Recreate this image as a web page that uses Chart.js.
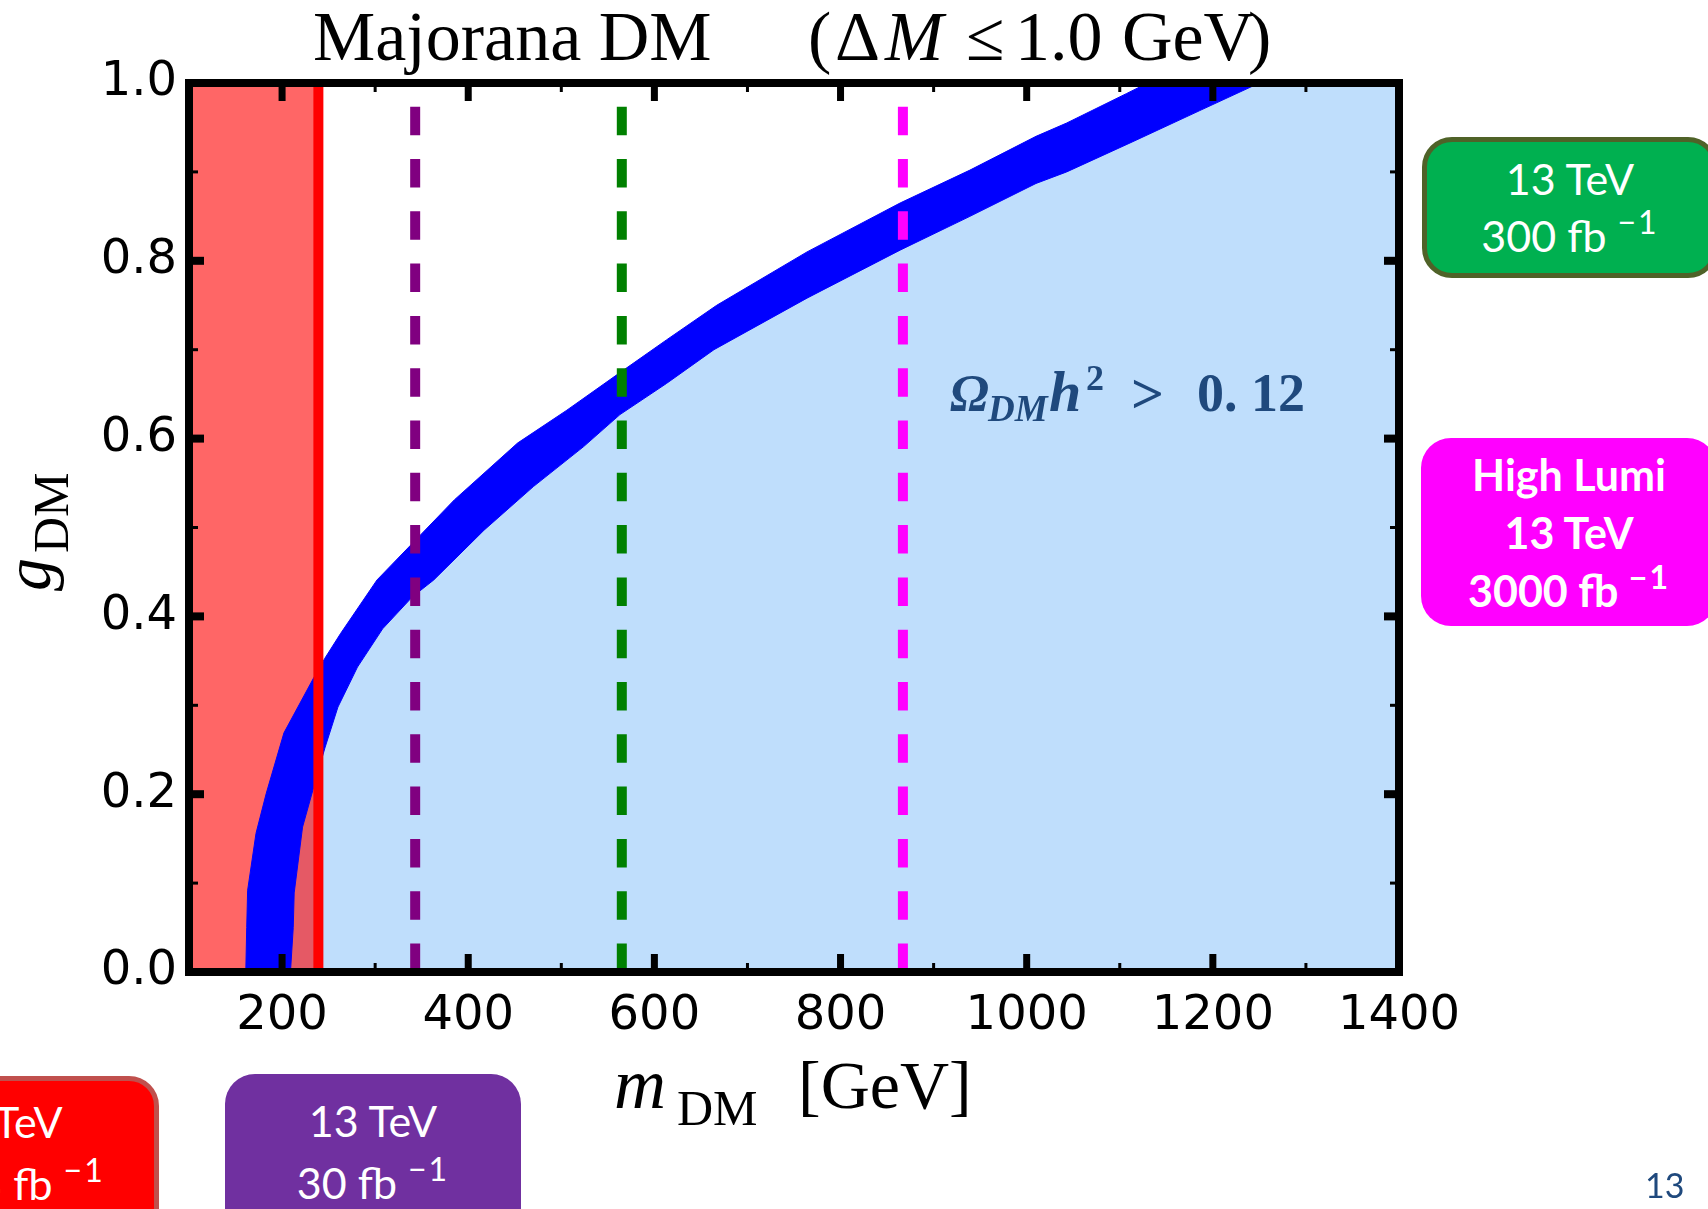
<!DOCTYPE html>
<html>
<head>
<meta charset="utf-8">
<title>Majorana DM</title>
<script src="https://cdn.jsdelivr.net/npm/chart.js@4.4.1/dist/chart.umd.min.js"></script>
<style>
  body { margin: 0; background: #fff; }
  #wrap { position: relative; width: 1708px; height: 1209px; overflow: hidden; }
  #myChart { position: absolute; left: 0; top: 0; }
  .box { position: absolute; box-sizing: border-box; width: 296px; color: #fff;
         font-family: Lato, sans-serif; font-size: 43px; text-align: center; border-radius: 30px; }
  .box div { white-space: nowrap; }
  .sup { font-size: 32px; letter-spacing: 2px; position: relative; top: -18px; }
  .bold { font-weight: bold; }
  #page { position: absolute; left: 1645px; top: 1164px; font-family: Lato, sans-serif; font-size: 34px; color: #1f497d; }
</style>
</head>
<body>
<div id="wrap">
  <canvas id="myChart" width="1708" height="1209"></canvas>

  <div class="box" style="left:1422px;top:137px;height:141px;background:#00b050;border:5px solid #4f6228;padding-top:8px;line-height:57px;">
    <div>13 TeV</div><div>300 fb <span class="sup">−1</span></div>
  </div>
  <div class="box bold" style="left:1421px;top:438px;height:188px;background:#ff00ff;padding-top:8px;line-height:58px;">
    <div>High Lumi</div><div>13 TeV</div><div>3000 fb <span class="sup">−1</span></div>
  </div>
  <div class="box" style="left:-137px;top:1076px;height:170px;background:#ff0000;border:5px solid #c0504d;padding-top:10px;line-height:62px;">
    <div>8 TeV</div><div>20.3 fb <span class="sup">−1</span></div>
  </div>
  <div class="box" style="left:225px;top:1074px;height:170px;background:#7030a0;padding-top:16px;line-height:62px;">
    <div>13 TeV</div><div>30 fb <span class="sup">−1</span></div>
  </div>
  <div id="page">13</div>
</div>

<script>
// relic-density band: left (upper) edge and right (lower) edge, m_DM in GeV vs g_DM
const upperMass = [161, 162, 163, 172, 183, 202, 234, 246, 263, 302, 338, 385, 453, 506, 560, 613, 667, 764, 864, 939, 1010, 1043, 1107, 1130];
const upperCoupling = [0.0, 0.05, 0.092, 0.156, 0.201, 0.269, 0.331, 0.353, 0.381, 0.441, 0.480, 0.531, 0.595, 0.632, 0.672, 0.711, 0.750, 0.810, 0.865, 0.902, 0.940, 0.955, 0.988, 1.0];
const lowerMass = [209, 212, 213, 222, 234, 246, 260, 281, 308, 340, 363, 417, 470, 524, 563, 613, 664, 764, 864, 939, 1010, 1043, 1114, 1186, 1250];
const lowerCoupling = [0.0, 0.05, 0.089, 0.163, 0.208, 0.252, 0.298, 0.343, 0.386, 0.422, 0.441, 0.497, 0.546, 0.591, 0.627, 0.662, 0.700, 0.758, 0.812, 0.850, 0.887, 0.900, 0.934, 0.969, 1.0];

// collider limits on m_DM (GeV)
const excludedMass = 239;                  // 8 TeV, 20.3 fb^-1
const reachMass = [343, 565, 867];         // 30, 300, 3000 fb^-1 at 13 TeV
const reachColors = ['#800080', '#008000', '#ff00ff'];

// axes
const massRange = [100, 1400];
const couplingRange = [0, 1];
const massTicks = [200, 400, 600, 800, 1000, 1200, 1400];
const massMinor = [300, 500, 700, 900, 1100, 1300];
const couplingTicks = [0, 0.2, 0.4, 0.6, 0.8, 1.0];
const couplingMinor = [0.1, 0.3, 0.5, 0.7, 0.9];

const serif = '"Liberation Serif", serif';

document.addEventListener('DOMContentLoaded', () => {
  const ctx = document.getElementById('myChart').getContext('2d');

  const pts = (xs, ys) => xs.map((x, i) => ({ x: x, y: ys[i] }));
  const bandShape = pts(upperMass, upperCoupling).concat(pts(lowerMass, lowerCoupling).reverse());
  const overAbundant = pts(lowerMass, lowerCoupling).concat([{ x: massRange[1], y: couplingRange[1] }]);

  const datasets = [
    {
      data: overAbundant, fill: 'origin', backgroundColor: 'rgb(191, 222, 252)',
      borderColor: 'transparent', borderWidth: 0, order: 10
    },
    {
      data: [{ x: massRange[0], y: couplingRange[1] }, { x: excludedMass, y: couplingRange[1] }],
      fill: 'origin', backgroundColor: 'rgba(255, 0, 0, 0.6)',
      borderColor: 'transparent', borderWidth: 0, order: 9
    },
    {
      data: bandShape, fill: 'shape', backgroundColor: '#0000ff',
      borderColor: '#0000ff', borderWidth: 1, order: 8
    },
    {
      data: [{ x: excludedMass, y: 0 }, { x: excludedMass, y: 1 }],
      borderColor: '#ff0000', borderWidth: 10, fill: false, order: 7
    }
  ];
  reachMass.forEach((m, i) => {
    datasets.push({
      data: [{ x: m, y: 0 }, { x: m, y: 1 }],
      borderColor: reachColors[i], borderWidth: 10, borderDash: [28.5, 23.8],
      fill: false, order: 6
    });
  });
  datasets.forEach(d => { d.showLine = true; d.pointRadius = 0; d.tension = 0; });

  // frame, inward ticks and the math-style labels
  const decorations = {
    id: 'decorations',
    afterDatasetsDraw(chart) {
      const c = chart.ctx;
      c.save();
      c.fillStyle = '#1f497d';
      c.textAlign = 'left';
      c.textBaseline = 'alphabetic';
      c.font = 'bold italic 52px ' + serif; c.fillText('Ω', 950, 411);
      c.font = 'bold italic 37px ' + serif; c.fillText('DM', 988, 421);
      c.font = 'bold italic 58px ' + serif; c.fillText('h', 1049, 411);
      c.font = 'bold 36px ' + serif; c.fillText('2', 1086, 390);
      c.font = 'bold 58px ' + serif; c.fillText('>', 1131, 413);
      c.font = 'bold 54px ' + serif; c.fillText('0. 12', 1197, 411);
      c.restore();
    },
    afterDraw(chart) {
      const c = chart.ctx;
      const a = chart.chartArea;
      const x = chart.scales.x, y = chart.scales.y;
      c.save();
      c.fillStyle = '#000';
      massTicks.forEach(v => {
        const p = x.getPixelForValue(v);
        c.fillRect(p - 3.5, a.bottom - 18, 7, 18);
        c.fillRect(p - 3.5, a.top, 7, 18);
      });
      massMinor.forEach(v => {
        const p = x.getPixelForValue(v);
        c.fillRect(p - 1.5, a.bottom - 9, 3, 9);
        c.fillRect(p - 1.5, a.top, 3, 9);
      });
      couplingTicks.forEach(v => {
        const p = y.getPixelForValue(v);
        c.fillRect(a.left, p - 4, 15, 8);
        c.fillRect(a.right - 15, p - 4, 15, 8);
      });
      couplingMinor.forEach(v => {
        const p = y.getPixelForValue(v);
        c.fillRect(a.left, p - 1.5, 9, 3);
        c.fillRect(a.right - 9, p - 1.5, 9, 3);
      });
      c.strokeStyle = '#000';
      c.lineWidth = 8;
      c.strokeRect(a.left, a.top, a.right - a.left, a.bottom - a.top);

      c.textAlign = 'left';
      c.textBaseline = 'alphabetic';
      // title
      c.font = '70px ' + serif;
      c.fillText('Majorana DM', 313, 60);
      c.fillText('(', 808, 60);
      c.fillText('Δ', 835, 60);
      c.font = 'italic 70px ' + serif;
      c.fillText('M', 885, 60);
      c.font = '70px ' + serif;
      c.fillText('≤', 966, 60);
      c.fillText('1.0', 1015, 60);
      c.fillText('GeV', 1122, 60);
      c.fillText(')', 1248, 60);
      // x axis title
      c.font = 'italic 72px ' + serif;
      c.fillText('m', 614, 1108);
      c.font = '50px ' + serif;
      c.fillText('DM', 677, 1125);
      c.font = '68px ' + serif;
      c.fillText('[GeV]', 798, 1108);
      // y axis title
      c.translate(50, 591);
      c.rotate(-Math.PI / 2);
      c.font = 'italic 66px ' + serif;
      c.fillText('g', 0, 0);
      c.font = '50px ' + serif;
      c.fillText('DM', 38, 18);
      c.restore();
    }
  };

  const tickFont = { family: '"DejaVu Sans", sans-serif', size: 48 };

  new Chart(ctx, {
    type: 'scatter',
    data: { datasets: datasets },
    options: {
      responsive: false,
      animation: false,
      events: [],
      devicePixelRatio: 1,
      layout: { padding: { top: 83, right: 309, left: 0, bottom: 0 } },
      plugins: { legend: { display: false }, tooltip: { enabled: false } },
      scales: {
        x: {
          type: 'linear', position: 'bottom',
          min: massRange[0], max: massRange[1],
          grid: { display: false, drawTicks: false },
          border: { display: false },
          afterBuildTicks: s => { s.ticks = massTicks.map(v => ({ value: v })); },
          afterFit: s => { s.height = 237; },
          ticks: { font: tickFont, color: '#000', padding: 16, maxRotation: 0, autoSkip: false, callback: v => String(v) }
        },
        y: {
          type: 'linear', position: 'left',
          min: couplingRange[0], max: couplingRange[1],
          grid: { display: false, drawTicks: false },
          border: { display: false },
          afterBuildTicks: s => { s.ticks = couplingTicks.map(v => ({ value: v })); },
          afterFit: s => { s.width = 189; },
          ticks: { font: tickFont, color: '#000', padding: 12, autoSkip: false, callback: v => v.toFixed(1) }
        }
      }
    },
    plugins: [decorations]
  });
});
</script>
</body>
</html>
